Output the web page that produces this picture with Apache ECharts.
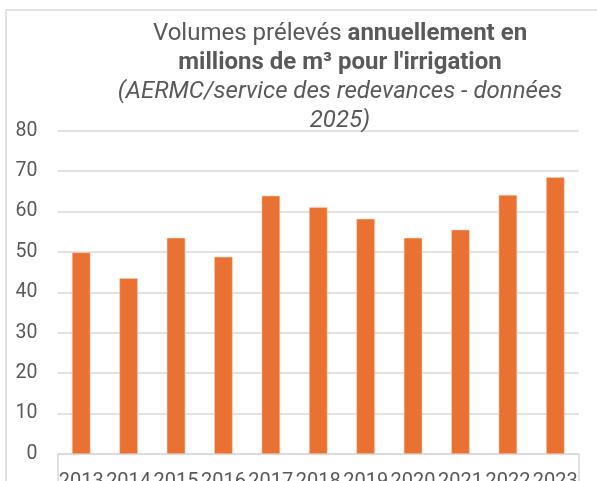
<!DOCTYPE html>
<html>
<head>
<meta charset="utf-8">
<script src="https://cdn.jsdelivr.net/npm/echarts@6/dist/echarts.min.js"></script>
<style>
html, body { margin: 0; padding: 0; background: #fff; overflow: hidden; }
#chart { width: 597px; height: 481px; }
</style>
</head>
<body>
<div id="chart"></div>
<script>
// données
var annees = ["2013", "2014", "2015", "2016", "2017", "2018", "2019", "2020", "2021", "2022", "2023"];
var volumes = [49.9, 43.5, 53.5, 48.8, 63.9, 61.1, 58.2, 53.5, 55.5, 64.1, 68.5];
var graduations = [0, 80, 10]; // min, max, pas

var police = "Roboto";
var gris = "#595959";
var trait = "#d9d9d9";

var myChart = echarts.init(document.getElementById("chart"));

var option = {
    backgroundColor: "#ffffff",
    animation: false,
    title: {
        left: 335,
        top: 14,
        textAlign: "center",
        text: "{n|Volumes prélevés }{b|annuellement en}\n{b|millions de m³ pour l'irrigation}\n{i|(AERMC/service des redevances - données}\n{i|2025)}",
        textStyle: {
            fontWeight: "normal",
            rich: {
                n: { fontFamily: police, fontSize: 24, color: gris, fontWeight: "normal", lineHeight: 29 },
                b: { fontFamily: police, fontSize: 24, color: gris, fontWeight: "bold", lineHeight: 29 },
                i: { fontFamily: police, fontSize: 24, color: gris, fontWeight: "normal", fontStyle: "italic", lineHeight: 29 }
            }
        }
    },
    graphic: [{
        // cadre du graphique
        type: "rect",
        shape: { x: 6, y: 10, width: 700, height: 600 },
        style: { fill: null, stroke: trait, lineWidth: 1.5 },
        silent: true
    }],
    grid: {
        left: 57.5,
        right: 18,
        top: 130.7,
        bottom: 27,
        outerBoundsMode: "none"
    },
    xAxis: {
        type: "category",
        data: annees,
        axisLine: { lineStyle: { color: trait, width: 1.5 } },
        axisTick: {
            show: true,
            length: 40,
            interval: function (index) { return index === 0; },
            lineStyle: { color: trait, width: 1.5 }
        },
        axisLabel: {
            interval: 0,
            hideOverlap: false,
            margin: 18,
            color: gris,
            fontFamily: police,
            fontSize: 20
        }
    },
    yAxis: {
        type: "value",
        min: graduations[0],
        max: graduations[1],
        interval: graduations[2],
        axisLine: { show: false },
        axisTick: { show: false },
        splitLine: { lineStyle: { color: trait, width: 1.5 } },
        axisLabel: {
            margin: 20,
            color: gris,
            fontFamily: police,
            fontSize: 19.5
        }
    },
    series: [{
        name: "Volumes",
        type: "bar",
        data: volumes,
        barCategoryGap: "61%",
        itemStyle: {
            color: "#E97132",
            borderColor: "rgba(255,210,190,0.8)",
            borderWidth: 0.6
        }
    }]
};

myChart.setOption(option);
</script>
</body>
</html>
